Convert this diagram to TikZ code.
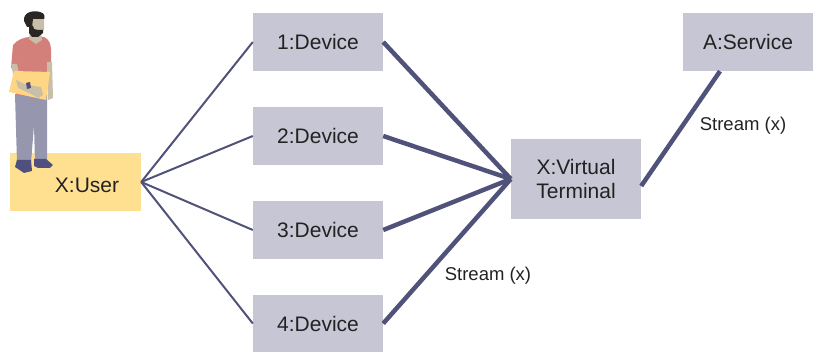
\documentclass[tikz,border=0pt]{standalone}
\usepackage{fontspec}
\setmainfont{Liberation Sans}
\definecolor{boxgray}{HTML}{C7C6D4}
\definecolor{useryellow}{HTML}{FFE091}
\definecolor{linkblue}{HTML}{50527A}
\definecolor{textdark}{HTML}{222222}
\definecolor{shirt}{HTML}{D4807A}
\definecolor{skin}{HTML}{C9BFA8}
\definecolor{pants}{HTML}{9696AE}
\definecolor{shoe}{HTML}{4F507E}
\definecolor{hair}{HTML}{2A2624}
\begin{document}
\begin{tikzpicture}[x=1pt,y=-1pt,
  box/.style={fill=boxgray, draw=none, minimum width=130pt, minimum height=58pt,
    inner sep=0pt, font=\fontsize{21}{24}\selectfont, text=textdark, align=center},
  thinlink/.style={draw=linkblue, line width=2pt},
  thicklink/.style={draw=linkblue, line width=4.5pt},
  streamlabel/.style={font=\fontsize{18.5}{22}\selectfont, text=textdark, inner sep=0pt}]
\useasboundingbox (0,0) rectangle (818,352);

% user box and its label
\node[box, fill=useryellow, minimum width=131pt] (user) at (75.5,182) {};
\node[font=\fontsize{21}{24}\selectfont, text=textdark, inner sep=0pt] (userlabel) at (87,185) {X:User};

% person standing on the user box
% legs
\fill[pants] (15,94) -- (47,94) -- (47,163) -- (35,163) -- (34,125) -- (31,163) -- (17,163) -- cycle;
% shoes
\fill[shoe] (17,160) -- (31,160) -- (32,171) -- (24,173) -- (15,167) -- cycle;
\fill[shoe] (34,159) -- (46,159) -- (53,165) -- (50,168) -- (38,168) -- (34,166) -- cycle;
% shirt
\fill[shirt] (13,45) .. controls (17,40) and (24,37) .. (30,37) -- (44,37) .. controls (49,39) and (51,44) .. (51,50)
  -- (51,70) -- (47,70) -- (47,96) -- (16,96) -- (16,70) -- (11,68) -- cycle;
% neck and face
\fill[skin] (30,32) -- (41,32) -- (42,40) -- (36,44) -- (29,39) -- cycle;
\fill[skin] (31,17) -- (44,17) -- (44,30) -- (38,33) -- (31,30) -- cycle;
% hair and beard
\fill[hair] (24,21) .. controls (23,12) and (33,10) .. (40,12) .. controls (45,13) and (45,17) .. (44,19)
  -- (33,19) -- (32,27) -- (27,27) -- cycle;
\fill[hair] (29,24) -- (33,26) -- (34,29) -- (38,30) -- (43,30) -- (43,33) -- (38,37) -- (32,37) -- (29,33) -- cycle;
% arms
\fill[skin] (11,64) -- (17,64) -- (21,84) -- (15,84) -- cycle;
\fill[skin] (47,62) -- (52,62) -- (53,98) -- (48,100) -- cycle;
% folder
\fill[useryellow!90!orange] (14,71) -- (50,72) -- (46,100) -- (9,92) -- cycle;
% hand on folder
\fill[skin] (16,80) -- (27,85) -- (41,87) -- (43,95) -- (38,98) -- (29,93) -- (18,88) -- cycle;
\fill[shoe] (26,83) -- (30,82) -- (31,88) -- (27,89) -- cycle;

% devices
\node[box] (d1) at (318,42) {1:Device};
\node[box] (d2) at (318,136) {2:Device};
\node[box] (d3) at (318,230) {3:Device};
\node[box, minimum height=57pt] (d4) at (318,323.5) {4:Device};

% virtual terminal and service
\node[box, minimum height=80pt] (vt) at (576,179) {X:Virtual\\Terminal};
\node[box] (svc) at (748,42) {A:Service};

% links from the user to each device
\foreach \d in {d1,d2,d3,d4}
  \draw[thinlink] (user.east) -- (\d.west);

% streams from the devices into the virtual terminal
\foreach \d in {d1,d2,d3,d4}
  \draw[thicklink] (\d.east) -- (vt.west);

% stream from the virtual terminal to the service
\coordinate (vtout) at ([yshift=-7pt]vt.east);
\coordinate (svcin) at ([xshift=-28pt]svc.south);
\draw[thicklink] (vtout) -- (svcin);

\node[streamlabel] (s1) at (488,276) {Stream (x)};
\node[streamlabel] (s2) at (743,126) {Stream (x)};
\end{tikzpicture}
\end{document}
